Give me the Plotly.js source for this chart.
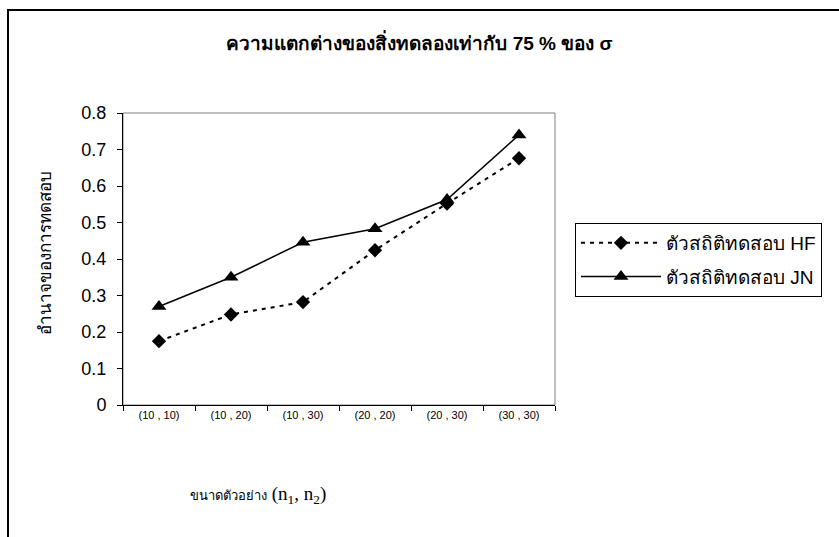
<!DOCTYPE html>
<html>
<head>
<meta charset="utf-8">
<script src="https://cdn.plot.ly/plotly-3.0.1.min.js"></script>
<style>
  html, body { margin: 0; padding: 0; background: #fff; overflow: hidden; }
  #frame { position: absolute; left: 7px; top: 9px; width: 900px; height: 600px; border: 2px solid #000; box-sizing: border-box; pointer-events: none; z-index: 5; }
  #chart { position: absolute; left: 0; top: 0; width: 839px; height: 537px; }
</style>
</head>
<body>
<div id="chart"></div>
<div id="frame"></div>
<script>
const categories = ["(10 , 10)", "(10 , 20)", "(10 , 30)", "(20 , 20)", "(20 , 30)", "(30 , 30)"];
const hfValues = [0.175, 0.248, 0.282, 0.424, 0.552, 0.676];
const jnValues = [0.270, 0.350, 0.446, 0.483, 0.563, 0.740];
const seriesNames = ["ตัวสถิติทดสอบ HF", "ตัวสถิติทดสอบ JN"];
const yTicks = [0, 0.1, 0.2, 0.3, 0.4, 0.5, 0.6, 0.7, 0.8];
const yTickText = ["0", "0.1", "0.2", "0.3", "0.4", "0.5", "0.6", "0.7", "0.8"];
const titleText = "ความแตกต่างของสิ่งทดลองเท่ากับ 75 % ของ σ";
const xTitleThai = "ขนาดตัวอย่าง";
const xTitleLatin = "(n<sub>1</sub>, n<sub>2</sub>)";
const yTitleText = "อำนาจของการทดสอบ";

const FONT = "Arial, 'Liberation Sans', 'Noto Sans', sans-serif";
const SERIF = "'Liberation Serif', 'Times New Roman', serif";

const traces = [
  {
    x: categories, y: hfValues, name: seriesNames[0], type: "scatter", mode: "lines+markers",
    legendgroup: "hf",
    line: { color: "#000", width: 2, dash: "4px,5px" },
    marker: { symbol: "diamond", size: 11, color: "#000" }
  },
  {
    x: categories, y: jnValues, name: seriesNames[1], type: "scatter", mode: "lines+markers",
    legendgroup: "jn",
    line: { color: "#000", width: 1.5 },
    marker: { symbol: "triangle-up", size: 13, color: "#000" }
  }
];

const layout = {
  width: 839, height: 537,
  margin: { l: 123, r: 284, t: 113, b: 132 },
  paper_bgcolor: "#fff", plot_bgcolor: "#fff",
  font: { family: FONT, color: "#000" },
  showlegend: true,
  title: {
    text: "<b>" + titleText + "</b>",
    font: { family: FONT, size: 19, color: "#000" },
    x: 0.5, xref: "container", xanchor: "center",
    y: 1 - 43 / 537, yref: "container", yanchor: "middle"
  },
  xaxis: {
    type: "category",
    range: [-0.5, 5.5],
    showline: true, linecolor: "#000", linewidth: 1,
    ticks: "outside", ticklen: 5, tickcolor: "#000", tickwidth: 1,
    tickson: "boundaries",
    showgrid: false, zeroline: false,
    tickfont: { family: FONT, size: 11, color: "#000" },
    fixedrange: true
  },
  yaxis: {
    range: [0, 0.8],
    tickvals: yTicks, ticktext: yTickText,
    showline: true, linecolor: "#000", linewidth: 1,
    ticks: "outside", ticklen: 5, tickcolor: "#000", tickwidth: 1,
    showgrid: false, zeroline: false,
    tickfont: { family: FONT, size: 18, color: "#000" },
    ticklabelstandoff: 7,
    fixedrange: true
  },
  legend: {
    x: (575 - 123) / 432, y: (405 - 223) / 292,
    xanchor: "left", yanchor: "top",
    bordercolor: "#000", borderwidth: 1, bgcolor: "#fff",
    font: { family: FONT, size: 19, color: "#000" },
    traceorder: "grouped",
    itemwidth: 80, tracegroupgap: 6
  },
  shapes: [
    { type: "rect", xref: "paper", yref: "paper", x0: 0, x1: 1, y0: 0, y1: 1,
      line: { color: "#808080", width: 1 }, layer: "below" }
  ],
  annotations: [
    { text: "<span style='font-size:13px'>" + xTitleThai + "</span> " + xTitleLatin,
      xref: "paper", yref: "paper",
      x: (258 - 123) / 432, y: (405 - 495) / 292, xanchor: "center", yanchor: "middle",
      showarrow: false, font: { family: SERIF, size: 19, color: "#000" } },
    { text: yTitleText, xref: "paper", yref: "paper", textangle: -90,
      x: (45 - 123) / 432, y: (405 - 253) / 292, xanchor: "center", yanchor: "middle",
      showarrow: false, font: { family: FONT, size: 17, color: "#000" } }
  ]
};

Plotly.newPlot("chart", traces, layout, { staticPlot: true, displayModeBar: false });
</script>
</body>
</html>
